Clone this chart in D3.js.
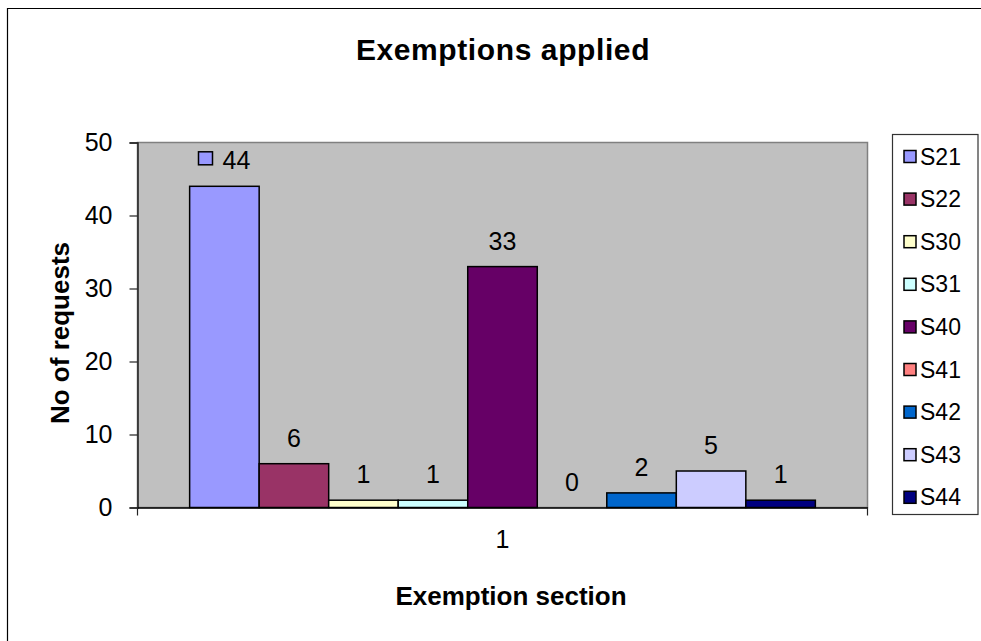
<!DOCTYPE html>
<html>
<head>
<meta charset="utf-8">
<title>Exemptions applied</title>
<script src="https://cdn.jsdelivr.net/npm/d3@7"></script>
<style>
  html, body { margin: 0; padding: 0; background: #fff; overflow: hidden; }
  svg { display: block; font-family: "Liberation Sans", Arial, sans-serif; }
  .axis text { fill: #000; }
</style>
</head>
<body>
<div id="chart"></div>
<script>
// Data.
const categories = ['1'];
const seriesNames = ['S21', 'S22', 'S30', 'S31', 'S40', 'S41', 'S42', 'S43', 'S44'];
const seriesValues = [44, 6, 1, 1, 33, 0, 2, 5, 1];
const yTicks = [0, 10, 20, 30, 40, 50];
// Series whose data label also shows the legend key.
const keyedSeries = ['S21'];

// Excel 2003 default series palette.
const palette = ['#9999FF', '#993366', '#FFFFCC', '#CCFFFF', '#660066',
  '#FF8080', '#0066CC', '#CCCCFF', '#000080'];

const W = 981, H = 641;
// Plot area box.
const plot = { left: 137.5, top: 142.5, right: 867.5, bottom: 507.5 };

const svg = d3.select('#chart').append('svg')
  .attr('width', W)
  .attr('height', H);

// Chart area border: only the top and left edges fall inside the picture.
svg.append('path')
  .attr('d', `M7.5,${H + 5}V8.5H${W + 5}`)
  .attr('fill', 'none')
  .attr('stroke', '#000')
  .attr('stroke-width', 1.2);

// Scales.
const x = d3.scaleBand()
  .domain(categories)
  .range([plot.left, plot.right])
  .padding(0);

// gap width 150% -> 0.75 of a bar on each side
const xs = d3.scaleBand()
  .domain(seriesNames)
  .range([x(categories[0]), x(categories[0]) + x.bandwidth()])
  .paddingInner(0)
  .paddingOuter(0.75);

const y = d3.scaleLinear()
  .domain([0, 50])
  .range([plot.bottom, plot.top]);

// Plot area background.
svg.append('rect')
  .attr('x', plot.left).attr('y', plot.top)
  .attr('width', plot.right - plot.left)
  .attr('height', plot.bottom - plot.top)
  .attr('fill', '#C0C0C0')
  .attr('stroke', '#808080')
  .attr('stroke-width', 1.5);

// Bars.
const bars = seriesNames.map((s, i) => ({ name: s, value: seriesValues[i], color: palette[i] }));

svg.append('g').attr('class', 'bars')
  .selectAll('rect')
  .data(bars)
  .enter()
  .append('rect')
  .attr('x', d => xs(d.name))
  .attr('y', d => y(d.value))
  .attr('width', xs.bandwidth())
  .attr('height', d => y(0) - y(d.value))
  .attr('fill', d => d.color)
  .attr('stroke', '#000')
  .attr('stroke-width', d => d.value > 0 ? 1.5 : 0);

// Y axis.
const yAxis = d3.axisLeft(y)
  .tickValues(yTicks)
  .tickSize(8)
  .tickPadding(17)
  .tickFormat(d3.format('d'));

const yAx = svg.append('g')
  .attr('class', 'y axis')
  .attr('transform', `translate(${plot.left},0)`)
  .call(yAxis);

yAx.select('.domain').attr('stroke', '#222').attr('stroke-width', 1.5);
yAx.selectAll('.tick line').attr('stroke', '#222').attr('stroke-width', 1.2);
yAx.selectAll('.tick text').attr('font-size', 25).attr('font-family', 'Liberation Sans, Arial, sans-serif');

// X axis.
const xAxis = d3.axisBottom(x)
  .tickSize(0)
  .tickPadding(23);

const xAx = svg.append('g')
  .attr('class', 'x axis')
  .attr('transform', `translate(0,${plot.bottom})`)
  .call(xAxis);

xAx.select('.domain').attr('stroke', '#000').attr('stroke-width', 1.5);
xAx.selectAll('.tick text').attr('font-size', 25).attr('font-family', 'Liberation Sans, Arial, sans-serif');

// Category boundary ticks.
const boundaries = categories.map(c => x(c)).concat([x(categories[categories.length - 1]) + x.bandwidth()]);
xAx.selectAll('line.boundary')
  .data(boundaries)
  .enter()
  .append('line')
  .attr('class', 'boundary')
  .attr('x1', d => d).attr('x2', d => d)
  .attr('y1', 0).attr('y2', 8)
  .attr('stroke', '#222')
  .attr('stroke-width', 1.2);

// Data labels.
const labels = svg.append('g').attr('class', 'data-labels')
  .selectAll('g')
  .data(bars)
  .enter()
  .append('g');

labels.each(function (d) {
  const g = d3.select(this);
  const cx = xs(d.name) + xs.bandwidth() / 2;
  const baseY = y(d.value) - 17;
  const t = g.append('text')
    .attr('font-size', 25)
    .attr('fill', '#000')
    .attr('y', baseY)
    .text(d.value);

  if (keyedSeries.indexOf(d.name) >= 0) {
    // label with legend key in front of it
    const tw = t.node().getComputedTextLength();
    const keyW = 14, keyH = 13, gap = 10;
    const left = cx - (keyW + gap + tw) / 2;
    g.append('rect')
      .attr('x', left)
      .attr('y', baseY - 17.5)
      .attr('width', keyW)
      .attr('height', keyH)
      .attr('fill', d.color)
      .attr('stroke', '#000')
      .attr('stroke-width', 1.5);
    t.attr('x', left + keyW + gap).attr('text-anchor', 'start');
  } else {
    t.attr('x', cx).attr('text-anchor', 'middle');
  }
});

// Title.
svg.append('text')
  .attr('x', 503)
  .attr('y', 60)
  .attr('text-anchor', 'middle')
  .attr('font-size', 30)
  .attr('font-weight', 'bold')
  .attr('letter-spacing', 0.6)
  .text('Exemptions applied');

// Axis titles.
svg.append('text')
  .attr('transform', 'translate(69,333) rotate(-90)')
  .attr('text-anchor', 'middle')
  .attr('font-size', 26)
  .attr('font-weight', 'bold')
  .text('No of requests');

svg.append('text')
  .attr('x', 511)
  .attr('y', 605)
  .attr('text-anchor', 'middle')
  .attr('font-size', 26)
  .attr('font-weight', 'bold')
  .text('Exemption section');

// Legend.
const legend = svg.append('g').attr('class', 'legend');

legend.append('rect')
  .attr('x', 892.5).attr('y', 134.5)
  .attr('width', 85.5).attr('height', 380)
  .attr('fill', '#fff')
  .attr('stroke', '#333')
  .attr('stroke-width', 1.2);

const items = legend.selectAll('g.item')
  .data(bars)
  .enter()
  .append('g')
  .attr('class', 'item')
  .attr('transform', (d, i) => `translate(904,${156.5 + i * 42.6})`);

items.append('rect')
  .attr('x', 0).attr('y', -6)
  .attr('width', 12).attr('height', 12)
  .attr('fill', d => d.color)
  .attr('stroke', '#000')
  .attr('stroke-width', 1.5);

items.append('text')
  .attr('x', 16)
  .attr('y', 8)
  .attr('font-size', 23)
  .attr('fill', '#000')
  .text(d => d.name);
</script>
</body>
</html>
